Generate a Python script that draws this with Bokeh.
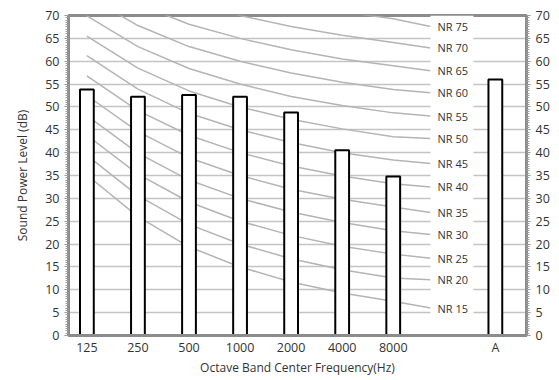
from bokeh.plotting import figure
from bokeh.models import Range1d, LinearAxis, FixedTicker, SingleIntervalTicker
from bokeh.core.properties import value
from bokeh.embed import file_html
from bokeh.resources import INLINE

# ---- data ----
bands = ["125", "250", "500", "1000", "2000", "4000", "8000", "A"]
band_pos = [0, 1, 2, 3, 4, 5, 6, 8]
levels = [53.8, 52.2, 52.6, 52.2, 48.8, 40.5, 34.8, 56.0]

nr_names = ["NR 15", "NR 20", "NR 25", "NR 30", "NR 35", "NR 40", "NR 45",
            "NR 50", "NR 55", "NR 60", "NR 65", "NR 70", "NR 75"]
# NR curve values at 125..8000 Hz, then the end value next to the label
nr15 = [35.1, 26.0, 19.4, 15.0, 11.7, 9.3, 7.5, 6.0]
nr20 = [39.4, 30.6, 24.3, 20.0, 16.8, 14.4, 12.6, 12.2]
nr25 = [43.8, 35.3, 29.2, 25.0, 21.9, 19.5, 17.8, 16.9]
nr30 = [48.1, 39.9, 34.0, 30.0, 27.0, 24.7, 22.9, 22.1]
nr35 = [52.5, 44.6, 38.9, 35.0, 32.0, 29.8, 28.1, 26.9]
nr40 = [56.8, 49.2, 43.8, 40.0, 37.1, 34.9, 33.2, 32.5]
nr45 = [61.2, 53.9, 48.6, 45.0, 42.2, 40.0, 38.4, 37.6]
nr50 = [65.5, 58.5, 53.5, 50.0, 47.3, 45.2, 43.5, 43.1]
nr55 = [69.9, 63.2, 58.4, 55.0, 52.3, 50.3, 48.7, 48.0]
nr60 = [74.2, 67.8, 63.2, 60.0, 57.4, 55.4, 53.8, 53.1]
nr65 = [78.6, 72.5, 68.1, 65.0, 62.5, 60.5, 59.0, 57.9]
nr70 = [82.9, 77.1, 73.0, 70.0, 67.6, 65.7, 64.1, 62.9]
nr75 = [87.3, 81.8, 77.9, 75.0, 72.6, 70.8, 69.3, 67.6]
nr_curves = [nr15, nr20, nr25, nr30, nr35, nr40, nr45, nr50, nr55, nr60, nr65, nr70, nr75]

FONT = "Open Sans"
TXT = "#333333"
AX = "#8c8c8c"

line_end_x = 6.73
label_box_right = 7.57
nr_x = band_pos[:7] + [line_end_x]

p = figure(frame_width=458, frame_height=320, output_backend="svg", toolbar_location=None,
           x_range=Range1d(-0.36, 8.61), y_range=Range1d(0, 70),
           min_border_left=68, min_border_right=25, min_border_top=15, min_border_bottom=0)

p.background_fill_color = "white"
p.outline_line_color = AX
p.outline_line_width = 3

# grid
p.xgrid.grid_line_color = None
p.ygrid.grid_line_color = "#c4c4c4"
p.ygrid.grid_line_width = 1.5

p.yaxis.ticker = SingleIntervalTicker(interval=5, num_minor_ticks=10)
p.xaxis.ticker = FixedTicker(ticks=band_pos)
p.xaxis.major_label_overrides = {pos: lab for pos, lab in zip(band_pos, bands)}

right = LinearAxis(ticker=SingleIntervalTicker(interval=5, num_minor_ticks=10))
p.add_layout(right, "right")

for ax in [p.yaxis[0], right]:
    ax.axis_line_color = AX
    ax.axis_line_width = 3
    ax.major_tick_out = 4
    ax.major_tick_in = 0
    ax.major_tick_line_color = AX
    ax.minor_tick_out = 3
    ax.minor_tick_in = 0
    ax.minor_tick_line_color = "#a0a0a0"
    ax.major_label_text_font = FONT
    ax.major_label_text_font_size = "12.5px"
    ax.major_label_text_color = TXT
    ax.major_label_standoff = 5

p.yaxis[0].axis_label = "Sound Power Level (dB)"
p.xaxis.axis_label = "Octave Band Center Frequency(Hz)"
for ax in [p.yaxis[0], p.xaxis[0]]:
    ax.axis_label_text_font = FONT
    ax.axis_label_text_font_size = "12px"
    ax.axis_label_text_font_style = "normal"
    ax.axis_label_text_color = TXT
p.yaxis[0].axis_label_standoff = 11
p.xaxis.axis_label_standoff = 0

xa = p.xaxis[0]
xa.axis_line_color = AX
xa.axis_line_width = 3
xa.major_tick_out = 0
xa.major_tick_in = 0
xa.minor_tick_out = 0
xa.minor_tick_in = 0
xa.major_label_text_font = FONT
xa.major_label_text_font_size = "12.5px"
xa.major_label_text_color = TXT
xa.major_label_standoff = 3

# NR curves
for vals in nr_curves:
    p.line(nr_x, vals, line_color="#b4b4b4", line_width=1.5)

# bars
p.vbar(x=band_pos, top=levels, bottom=0, width=0.27, fill_color="white",
       line_color="black", line_width=2)

# white band behind the NR labels (breaks the grid lines)
p.quad(left=[line_end_x], right=[label_box_right], bottom=[2.5], top=[70],
       fill_color="white", line_color=None)

# NR labels
p.text(x=[line_end_x] * len(nr_names), y=[v[-1] for v in nr_curves], text=nr_names,
       x_offset=7, text_font=value(FONT), text_font_size="11px", text_color=TXT,
       text_baseline="middle", text_align="left")

open("out.html", "w").write(file_html(p, INLINE))
